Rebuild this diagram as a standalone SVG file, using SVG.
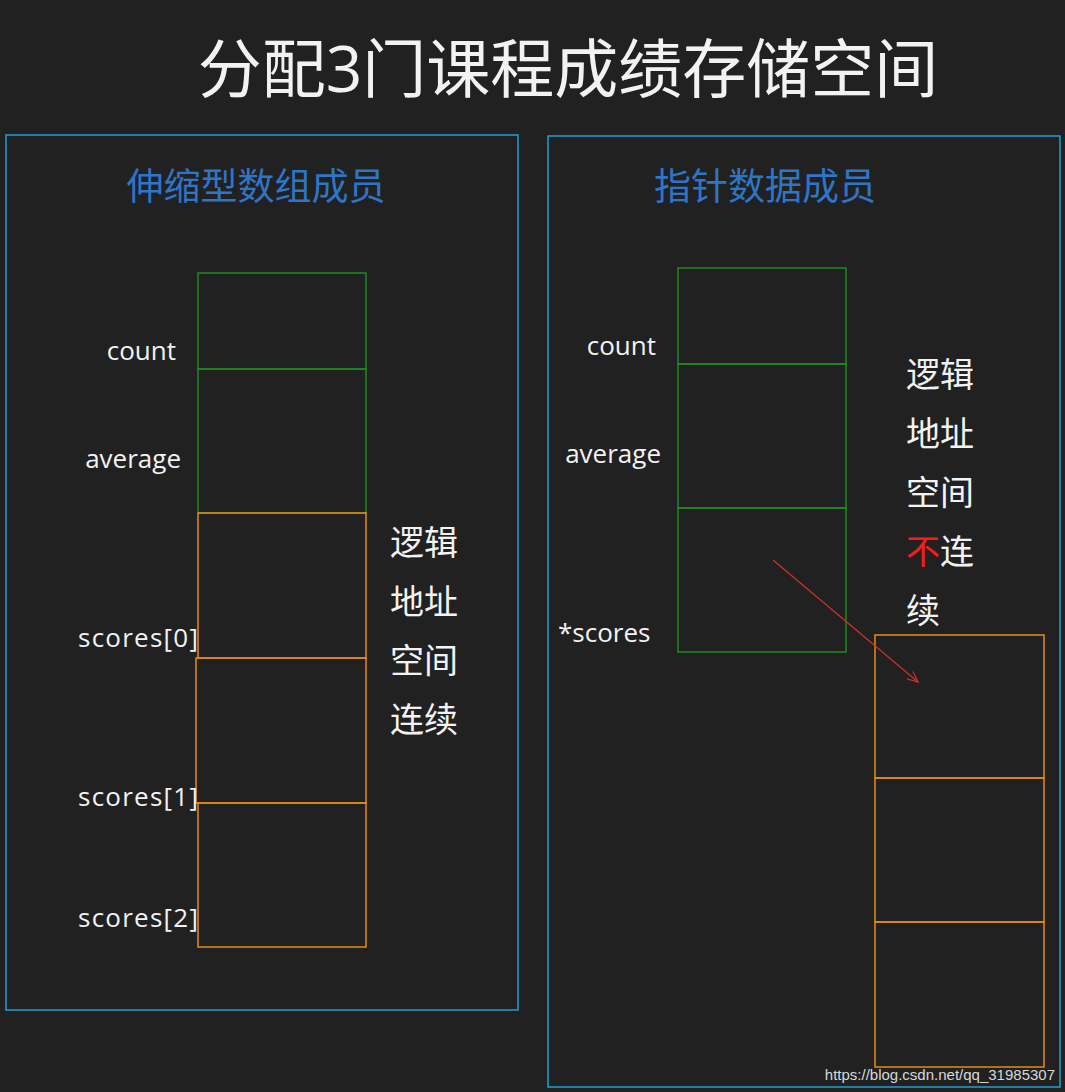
<svg xmlns="http://www.w3.org/2000/svg" width="1065" height="1092" viewBox="0 0 1065 1092">
<style>
.t{font-family:"Open Sans","Noto Sans CJK SC",sans-serif;fill:#f2f2f2}
.l{font-size:26px}
.c{font-size:34px}
.h{font-family:"Noto Sans CJK SC",sans-serif;font-size:37px;fill:#2e75c6}
.p{fill:none;stroke:#1ea0d2;stroke-width:1.5}
.g{fill:none;stroke:#1f8a1f;stroke-width:1.5}
.o{fill:none;stroke:#e68a1a;stroke-width:1.5}
</style>
<defs><marker id="a" markerWidth="12" markerHeight="10" refX="11" refY="5" orient="auto" markerUnits="userSpaceOnUse"><path d="M0,0 L11,5 L0,10" fill="none" stroke="#d03030" stroke-width="1.2"/></marker></defs>
<rect width="1065" height="1092" fill="#212121"/>
<text class="t" x="568" y="92" font-size="64" text-anchor="middle">分配3门课程成绩存储空间</text>
<g id="left">
<rect class="p" x="6" y="135" width="512" height="875"/>
<text class="h" x="256" y="200" text-anchor="middle">伸缩型数组成员</text>
<rect class="g" x="198" y="273" width="168" height="96"/>
<rect class="g" x="198" y="369" width="168" height="144"/>
<rect class="o" x="198" y="513" width="168" height="145"/>
<rect class="o" x="196" y="658" width="170" height="145"/>
<rect class="o" x="198" y="803" width="168" height="144"/>
<text class="t l" x="176" y="360" text-anchor="end">count</text>
<text class="t l" x="181" y="468" text-anchor="end">average</text>
<text class="t l" x="78" y="647" textLength="120">scores[0]</text>
<text class="t l" x="78" y="806" textLength="120">scores[1]</text>
<text class="t l" x="78" y="927" textLength="120">scores[2]</text>
<text class="t c" x="390" y="555">逻辑</text>
<text class="t c" x="390" y="614">地址</text>
<text class="t c" x="390" y="673">空间</text>
<text class="t c" x="390" y="732">连续</text>
</g>
<g id="right">
<rect class="p" x="548" y="136" width="512" height="951"/>
<text class="h" x="765" y="200" text-anchor="middle">指针数据成员</text>
<rect class="g" x="678" y="268" width="168" height="96"/>
<rect class="g" x="678" y="364" width="168" height="144"/>
<rect class="g" x="678" y="508" width="168" height="144"/>
<rect class="o" x="875" y="635" width="169" height="143"/>
<rect class="o" x="875" y="778" width="169" height="144"/>
<rect class="o" x="875" y="922" width="169" height="145"/>
<text class="t l" x="656" y="355" text-anchor="end">count</text>
<text class="t l" x="661" y="463" text-anchor="end">average</text>
<text class="t l" x="558" y="642">*scores</text>
<text class="t c" x="906" y="387">逻辑</text>
<text class="t c" x="906" y="446">地址</text>
<text class="t c" x="906" y="505">空间</text>
<text class="t c" x="906" y="564"><tspan fill="#ff1a1a">不</tspan>连</text>
<text class="t c" x="906" y="623">续</text>
<text x="1055" y="1080" text-anchor="end" font-family="Liberation Sans,sans-serif" font-size="15" fill="#d8d8d8">https://blog.csdn.net/qq_31985307</text>
</g>
<g id="connectors">
<line x1="773" y1="560" x2="918" y2="682" stroke="#d03030" stroke-width="1.2" marker-end="url(#a)"/>
</g>
</svg>
